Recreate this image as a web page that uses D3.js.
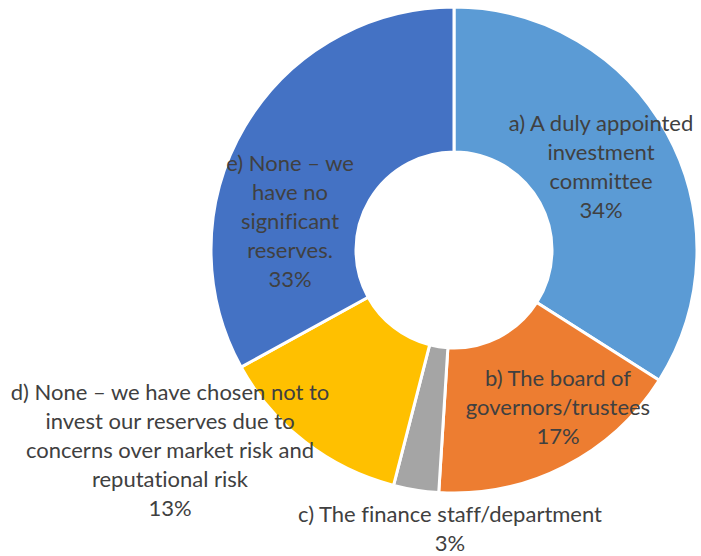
<!DOCTYPE html>
<html>
<head>
<meta charset="utf-8">
<script src="https://cdn.jsdelivr.net/npm/d3@7/dist/d3.min.js"></script>
<style>
  html, body { margin: 0; padding: 0; background: #ffffff; }
  svg { display: block; }
  text.label { font-variant-ligatures: none; font-feature-settings: "liga" 0; }
</style>
</head>
<body>
<div id="chart"></div>
<script>
// Who decides how reserves are invested
const categories = [
  "a) A duly appointed investment committee",
  "b) The board of governors/trustees",
  "c) The finance staff/department",
  "d) None – we have chosen not to invest our reserves due to concerns over market risk and reputational risk",
  "e) None – we have no significant reserves."
];
const values = [34, 17, 3, 13, 33];
const colors = ["#5B9BD5", "#ED7D31", "#A5A5A5", "#FFC000", "#4472C4"];

// Wrapped label lines (category text broken as in the chart)
const labelLines = [
  ["a) A duly appointed", "investment", "committee"],
  ["b) The board of", "governors/trustees"],
  ["c) The finance staff/department"],
  ["d) None – we have chosen not to", "invest our reserves due to", "concerns over market risk and", "reputational risk"],
  ["e) None – we", "have no", "significant", "reserves."]
];

const width = 701, height = 556;
const cx = 454, cy = 250;
const outerR = 243, innerR = 98;
const lineH = 29;

// Label block centres, relative to the donut centre
const labelCenters = [
  [147, -83],
  [104, 157],
  [-4, 279],
  [-284, 200],
  [-164, -29]
];

const svg = d3.select("#chart").append("svg")
  .attr("width", width)
  .attr("height", height);

const g = svg.append("g").attr("transform", `translate(${cx},${cy})`);

const pie = d3.pie().sort(null).value(d => d);
const arc = d3.arc().innerRadius(innerR).outerRadius(outerR);
const arcs = pie(values);

g.selectAll("path.slice")
  .data(arcs)
  .join("path")
  .attr("class", "slice")
  .attr("d", arc)
  .attr("fill", (d, i) => colors[i])
  .attr("stroke", "#ffffff")
  .attr("stroke-width", 3)
  .attr("stroke-linejoin", "round");

const labels = g.selectAll("text.label")
  .data(arcs)
  .join("text")
  .attr("class", "label")
  .attr("text-anchor", "middle")
  .attr("font-family", "Lato, 'Open Sans', sans-serif")
  .attr("font-size", 22)
  .attr("fill", "#404040");

labels.each(function(d, i) {
  const lines = labelLines[i].concat([d3.format(".0f")(values[i]) + "%"]);
  const [lx, ly] = labelCenters[i];
  const top = ly - (lines.length - 1) * lineH / 2;
  d3.select(this).selectAll("tspan")
    .data(lines)
    .join("tspan")
    .attr("x", lx)
    .attr("y", (t, k) => top + k * lineH)
    .attr("dy", "0.35em")
    .text(t => t);
});
</script>
</body>
</html>
